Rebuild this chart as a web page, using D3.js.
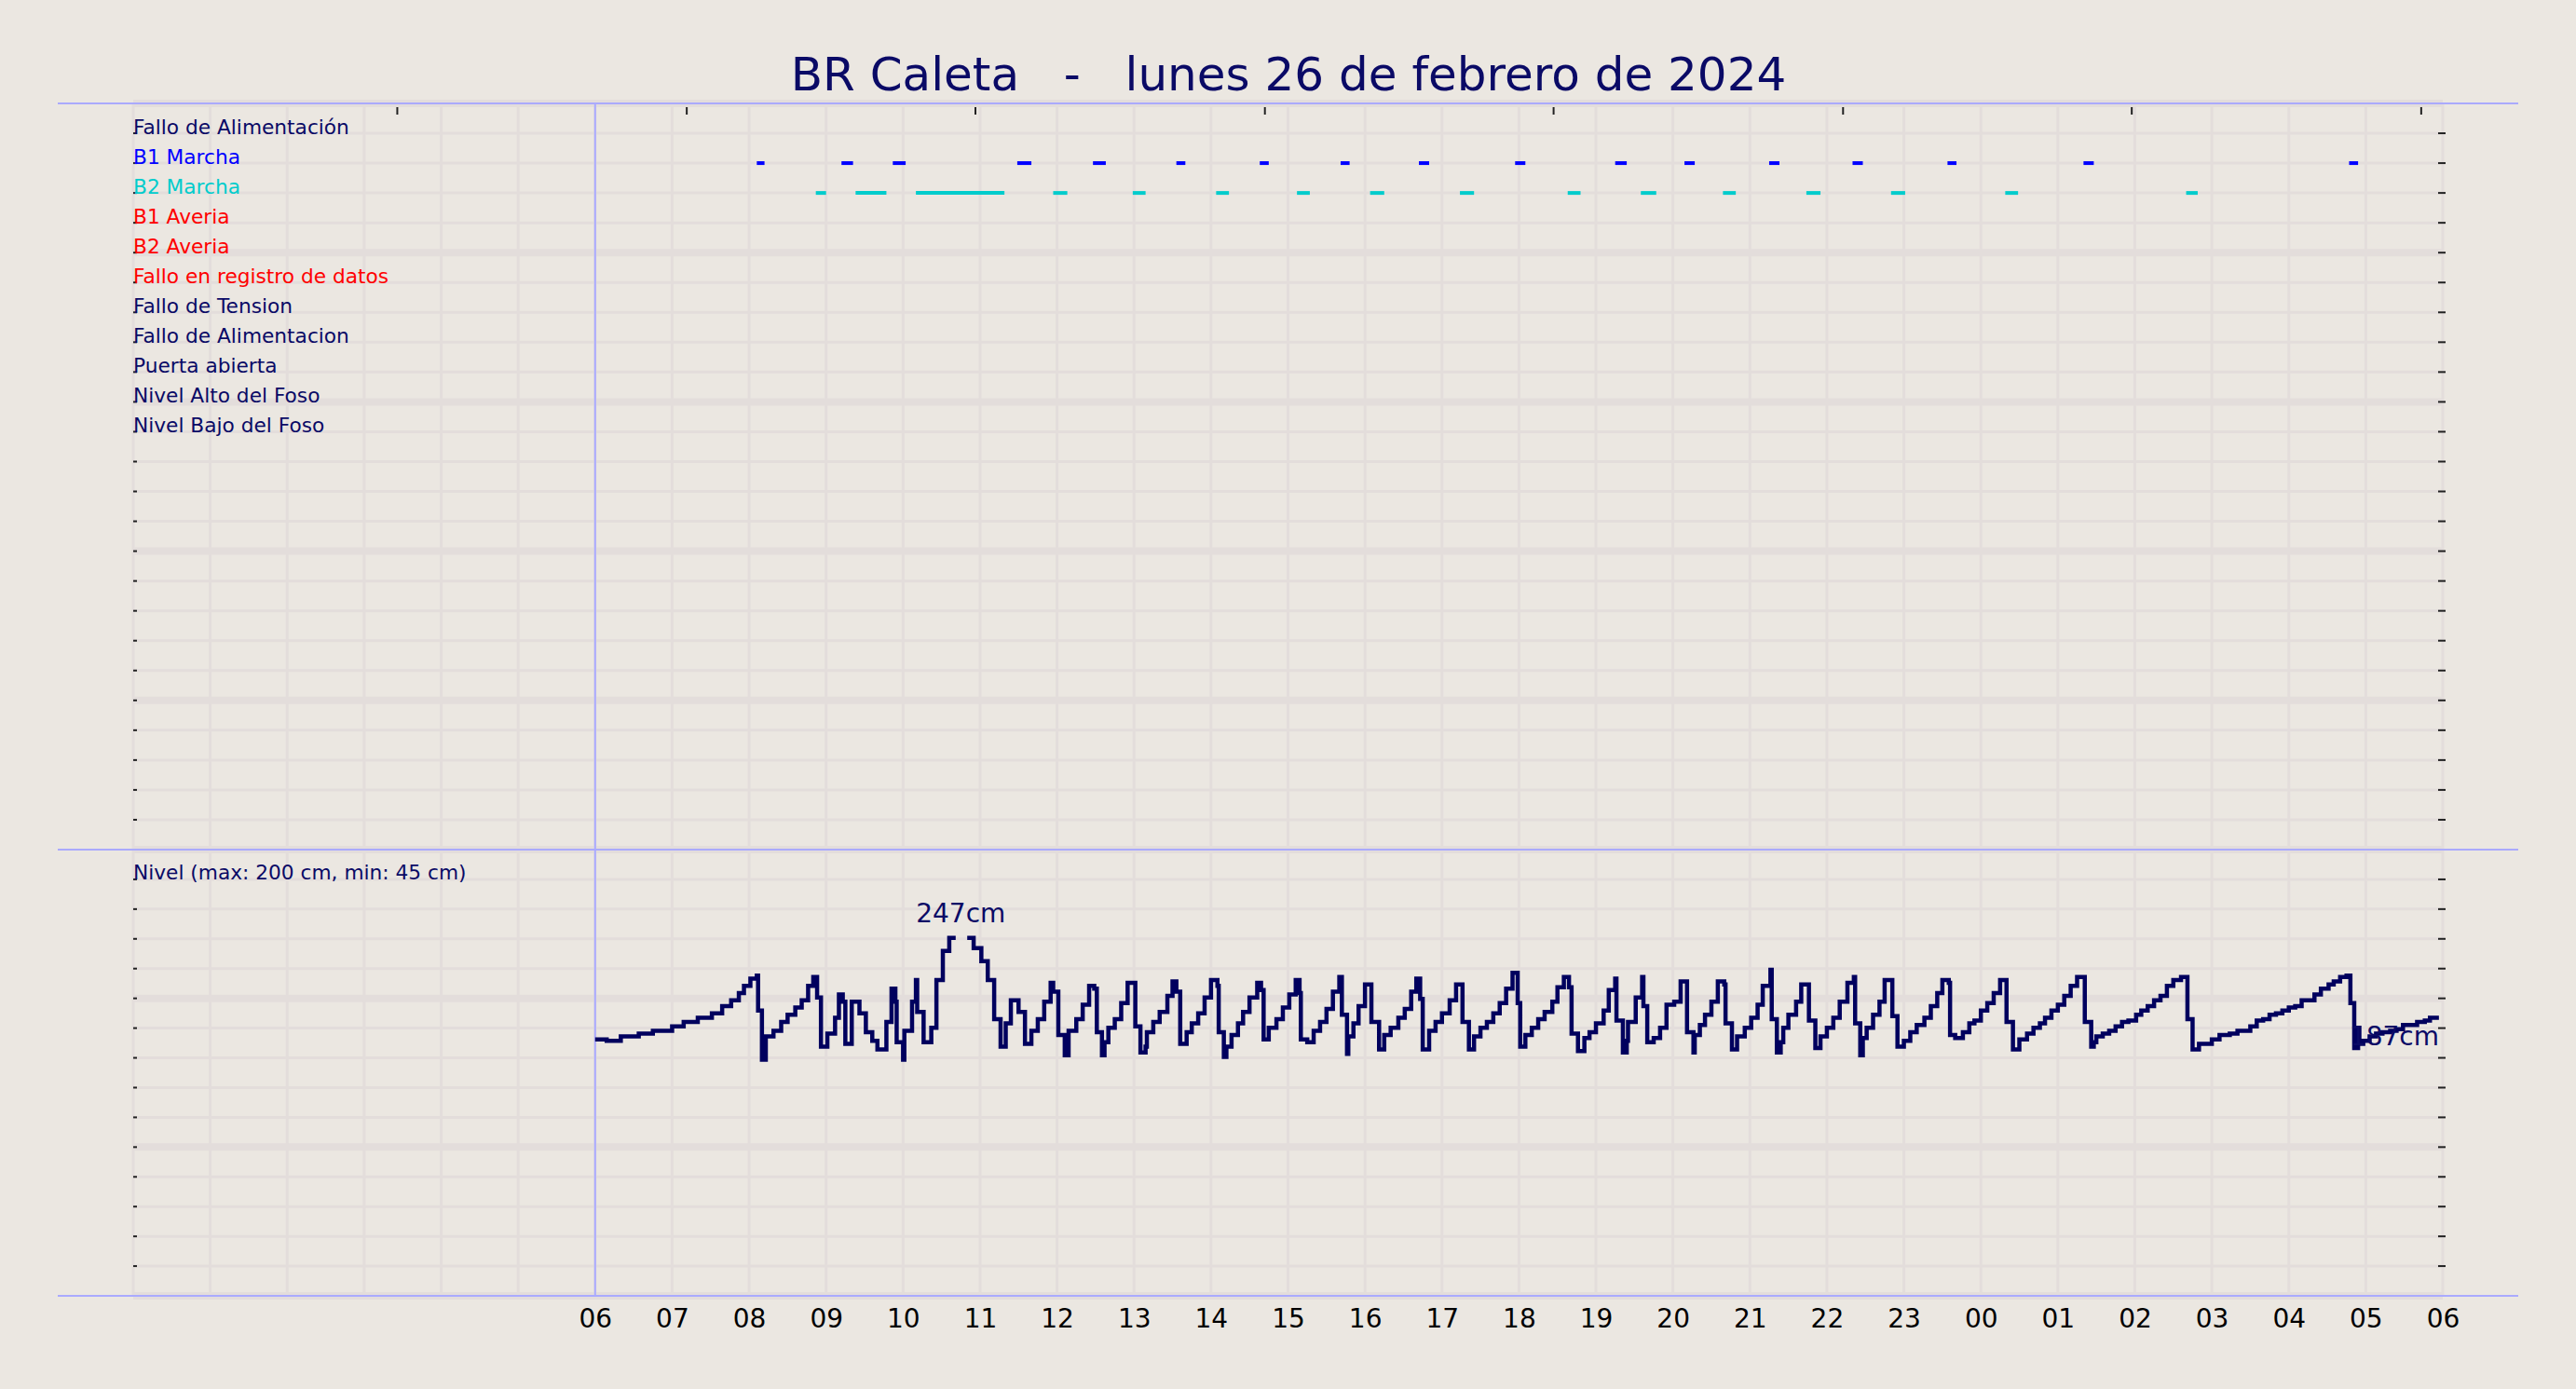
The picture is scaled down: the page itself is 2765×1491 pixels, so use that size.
<!DOCTYPE html>
<html>
<head>
<meta charset="utf-8">
<script src="https://cdn.jsdelivr.net/npm/d3@7"></script>
<style>
  html, body { margin: 0; padding: 0; background: #ebe7e1; }
  svg { display: block; }
  text { font-family: "DejaVu Sans", sans-serif; }
</style>
</head>
<body>
<svg width="2765" height="1491"></svg>
<script>
// ---------------- data ----------------
var title = 'BR Caleta   -   lunes 26 de febrero de 2024';

var signalNames = ['Fallo de Alimentación', 'B1 Marcha', 'B2 Marcha', 'B1 Averia', 'B2 Averia',
    'Fallo en registro de datos', 'Fallo de Tension', 'Fallo de Alimentacion', 'Puerta abierta',
    'Nivel Alto del Foso', 'Nivel Bajo del Foso'];
var signalColors = ['#0a0a66', '#0000ff', '#00cccc', '#ff0000', '#ff0000', '#ff0000',
    '#0a0a66', '#0a0a66', '#0a0a66', '#0a0a66', '#0a0a66'];

// events: [start, end] in minutes after 06:00
var b1Runs = [[126,132],[192,201],[232,242],[329,340],[388,398],[453,460],[518,525],[581,588],
    [642,650],[717,725],[795,804],[849,857],[915,923],[980,988],[1054,1061],[1160,1168],[1367,1374]];
var b2Runs = [[172,180],[203,227],[250,319],[357,368],[419,429],[484,494],[547,557],[604,615],
    [674,685],[758,768],[815,827],[879,889],[944,955],[1010,1021],[1099,1109],[1240,1249]];

// nivel (cm), change points in minutes after 06:00
var levelMin = [0,9,20,34,45,60,69,80,91,99,106,112,116,121,126,127,130,133,139,145,150,156,161,166,170,173,176,
    181,187,190,193,195,200,206,211,216,220,227,231,234,235,240,241,247,250,251,256,262,266,271,276,281,283,
    290,295,301,306,311,316,320,324,330,335,340,345,350,355,357,361,366,369,
    375,380,385,389,391,395,397,400,405,410,415,421,425,429,430,435,440,446,450,453,456,461,465,470,475,480,
    485,486,490,492,496,501,505,510,516,519,521,525,531,536,541,546,549,550,555,560,565,570,575,580,582,586,
    587,591,595,600,605,611,615,620,626,631,636,640,643,645,650,655,660,666,671,676,681,685,690,695,700,705,
    710,715,719,721,725,730,735,740,
    746,750,755,759,761,766,771,775,780,786,790,795,796,801,804,805,811,816,817,820,825,830,835,841,846,851,
    856,857,861,865,870,875,880,881,886,890,896,901,906,910,916,917,921,924,926,930,936,940,946,951,955,960,
    965,970,976,981,982,986,988,991,996,1001,1005,1011,1015,1020,1025,1030,1036,1041,1046,1050,1055,1056,
    1060,1066,1071,1075,1080,1085,1090,1095,1100,1105,1110,
    1116,1121,1126,1130,1135,1140,1145,1150,1155,1161,1166,1168,1170,1175,1180,1185,1190,1195,1201,1205,
    1210,1215,1220,1225,1230,1236,1241,1245,1250,1260,1266,1274,1280,1285,1290,1295,1300,1305,1310,1315,
    1320,1325,1330,1335,1340,1345,1351,1355,1360,1365,1368,1371,1374,1375,1378,1383,1388,1393,1399,1404,
    1409,1415,1420,1426,1430,1437];
var levelCm = [177,176,179,181,183,186,189,192,195,200,204,209,214,219,221,197,163,179,183,189,194,199,204,214,220,206,172,
    181,192,208,203,174,203,195,182,176,170,189,212,203,175,163,183,203,218,196,175,185,218,238,247,247,null,
    247,240,231,218,191,172,188,204,196,174,183,191,203,216,210,180,166,183,
    191,201,214,212,182,166,175,185,191,202,216,186,168,172,182,189,196,207,217,210,174,182,188,195,206,218,
    214,182,165,172,180,188,196,206,216,211,177,185,191,199,208,218,209,177,175,183,189,198,210,220,194,167,
    179,188,200,215,189,170,180,185,192,198,210,219,205,170,183,189,195,204,215,189,170,179,185,189,195,202,
    212,223,202,172,180,185,191,196,
    203,213,220,213,181,169,178,182,188,197,211,219,190,168,176,189,206,220,200,175,178,185,201,203,217,182,
    168,180,187,194,203,217,215,188,170,179,185,192,201,214,225,191,168,175,185,194,203,215,190,171,179,185,
    192,203,216,220,188,166,178,185,194,203,218,193,172,176,182,187,192,200,209,218,216,180,
    178,182,188,190,197,202,209,218,189,170,177,
    181,185,188,192,197,201,207,214,220,189,172,175,179,181,183,186,189,190,194,197,
    200,204,207,214,218,220,191,170,174,177,180,181,183,183,186,190,191,194,195,197,
    199,200,204,204,208,212,215,217,220,221,202,171,185,174,176,179,181,182,183,184,
    187,187,189,190,192,192];

var nivelLabel = 'Nivel (max: 200 cm, min: 45 cm)';
var lastLabel = '187cm';
var topTickHours = [3.43, 7.19, 10.94, 14.70, 18.45, 22.21, 25.96, 29.72];

// ---------------- layout ----------------
var svg = d3.select('svg');
var left = 143, right = 2622;
var top1 = 111, bot1 = 912, bot2 = 1391;
var rowsTop = 25, rowsBot = 15;
var day0 = new Date(2024, 1, 26, 0, 0);
var t6 = new Date(2024, 1, 26, 6, 0);
var minToDate = m => new Date(t6.getTime() + m * 60000);

var x = d3.scaleTime().domain([day0, new Date(2024, 1, 27, 6, 0)]).range([left, right]);
var yTop = d3.scaleLinear().domain([0, rowsTop]).range([top1, bot1]);
var yBot = d3.scaleLinear().domain([0, rowsBot]).range([bot1, bot2]);
var yLevel = d3.scaleLinear().domain([0, 308]).range([bot2, bot1]);

svg.append('rect').attr('width', 2765).attr('height', 1491).attr('fill', '#ebe7e1');

// grid
var g = svg.append('g');
var hours = d3.timeHour.range(day0, new Date(2024, 1, 27, 6, 1));
g.selectAll('.vg').data(hours).join('line')
    .attr('x1', d => x(d)).attr('x2', d => x(d)).attr('y1', top1).attr('y2', bot2)
    .attr('stroke', '#e3dddb').attr('stroke-width', 3);
function hgrid(scale, n) {
  g.selectAll(null).data(d3.range(0, n + 1)).join('line')
      .attr('x1', left).attr('x2', right).attr('y1', d => scale(d)).attr('y2', d => scale(d))
      .attr('stroke', '#e3dddb').attr('stroke-width', d => d % 5 === 0 ? 8 : 3);
  // right ticks
  g.selectAll(null).data(d3.range(1, n)).join('line')
      .attr('x1', right - 5).attr('x2', right + 3).attr('y1', d => scale(d)).attr('y2', d => scale(d))
      .attr('stroke', '#222').attr('stroke-width', 2);
  g.selectAll(null).data(d3.range(1, n)).join('line')
      .attr('x1', left).attr('x2', left + 4).attr('y1', d => scale(d)).attr('y2', d => scale(d))
      .attr('stroke', '#222').attr('stroke-width', 2);
}
hgrid(yTop, rowsTop);
hgrid(yBot, rowsBot);

// borders
var blue = '#aaaaff';
[top1, bot1, bot2].forEach(yy => svg.append('line').attr('x1', 62).attr('x2', 2703)
    .attr('y1', yy).attr('y2', yy).attr('stroke', blue).attr('stroke-width', 2));
svg.append('line').attr('x1', x(t6)).attr('x2', x(t6)).attr('y1', top1).attr('y2', bot2)
    .attr('stroke', blue).attr('stroke-width', 2);

// top ticks
svg.selectAll('.tt').data(topTickHours).join('line')
    .attr('x1', d => x(new Date(day0.getTime() + d * 3600000)))
    .attr('x2', d => x(new Date(day0.getTime() + d * 3600000)))
    .attr('y1', top1 + 4).attr('y2', top1 + 12).attr('stroke', '#222').attr('stroke-width', 2);

// title
svg.append('text').attr('x', 1383).attr('y', 97).attr('text-anchor', 'middle')
    .attr('font-size', 50).attr('fill', '#0a0a66').style('white-space', 'pre').text(title);

// signal labels
svg.selectAll('.sl').data(signalNames).join('text')
    .attr('x', left).attr('y', (d, i) => yTop(i + 1) + 1)
    .attr('font-size', 21.7).attr('fill', (d, i) => signalColors[i]).text(d => d);

// event bars
function runs(data, row, color) {
  svg.selectAll(null).data(data).join('line')
      .attr('x1', d => x(minToDate(d[0]))).attr('x2', d => x(minToDate(d[1])))
      .attr('y1', yTop(row + 1)).attr('y2', yTop(row + 1))
      .attr('stroke', color).attr('stroke-width', 4);
}
runs(b1Runs, 1, '#0000ff');
runs(b2Runs, 2, '#00cccc');

// nivel
svg.append('text').attr('x', left).attr('y', 944).attr('font-size', 21.7)
    .attr('fill', '#0a0a66').text(nivelLabel);

var pts = levelMin.map((m, i) => ({t: minToDate(m), v: levelCm[i]}));
var line = d3.line().defined(d => d.v != null).curve(d3.curveStepAfter)
    .x(d => x(d.t)).y(d => yLevel(d.v));
svg.append('path').datum(pts).attr('d', line).attr('fill', 'none')
    .attr('stroke', '#00005e').attr('stroke-width', 4.5);

var maxV = d3.max(levelCm);
var iMax = levelCm.indexOf(maxV);
svg.append('text').attr('x', x(minToDate(levelMin[iMax] + 9))).attr('y', yLevel(maxV) - 17)
    .attr('text-anchor', 'middle').attr('font-size', 28).attr('fill', '#0a0a66').text(maxV + 'cm');
svg.append('text').attr('x', right - 4).attr('y', yLevel(187) + 22)
    .attr('text-anchor', 'end').attr('font-size', 28).attr('fill', '#0a0a66').text(lastLabel);

// x axis
var axis = d3.axisBottom(x).tickValues(d3.timeHour.range(t6, new Date(2024, 1, 27, 6, 1)))
    .tickFormat(d3.timeFormat('%H')).tickSize(0).tickPadding(14);
var ax = svg.append('g').attr('transform', 'translate(0,' + bot2 + ')').call(axis);
ax.select('.domain').remove();
ax.selectAll('text').attr('font-size', 28).attr('fill', '#000')
    .attr('font-family', '"DejaVu Sans", sans-serif');
</script>
</body>
</html>
